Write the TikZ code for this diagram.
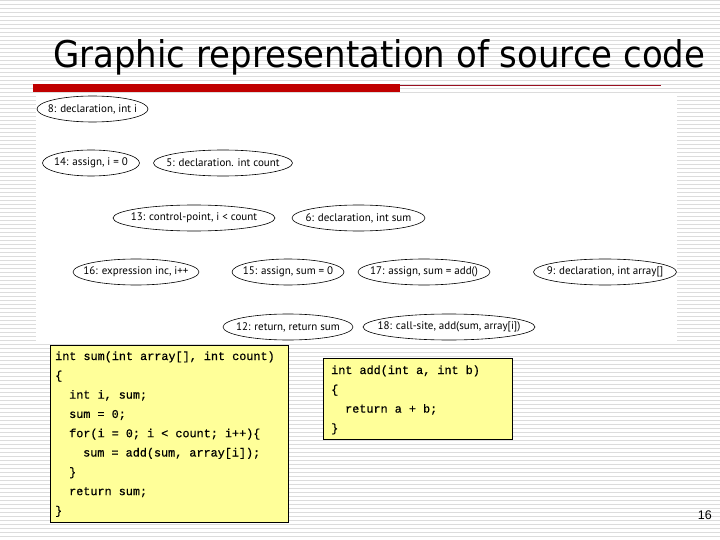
\documentclass[tikz,border=0pt]{standalone}
\usepackage{fontspec}
\setmainfont{Liberation Sans}
\newfontfamily\ellfont{PT Sans}
\newfontfamily\codefont[FakeBold=0.6]{Liberation Mono}
\newfontfamily\titlefont{DejaVu Sans}
\usetikzlibrary{shapes.geometric}
\definecolor{stripegray}{HTML}{DCDCDC}
\definecolor{barred}{HTML}{C00000}
\definecolor{thinred}{HTML}{9A1020}
\definecolor{codeyellow}{HTML}{FFFF99}
\newcommand{\ztext}[1]{\makebox[0pt]{#1}}
\begin{document}
\begin{tikzpicture}[x=1pt,y=-1pt,
  stripe/.style={draw=stripegray,line width=1.1pt},
  ell/.style={draw,ellipse,line width=0.6pt,inner sep=0pt,minimum height=26pt,
    font=\ellfont\fontsize{11}{12}\selectfont},
  codebox/.style={draw=black,line width=0.8pt,fill=codeyellow,inner sep=0pt},
  codeline/.style={anchor=base west,inner sep=0pt,font=\codefont\fontsize{11.8}{12}\selectfont}]
\useasboundingbox (0,0) rectangle (720,540);
\fill[white] (0,0) rectangle (720,540);
\foreach \k in {0,...,134} \draw[stripe] (0,{4*\k+0.7}) -- (720,{4*\k+0.7});
% title
\node[anchor=base west,inner sep=0pt] (title) at (53,68) {\resizebox{652pt}{28pt}{\titlefont Graphic representation of source code}};
% red bars
\fill[barred] (33,84) rectangle (400,92);
\draw[thinred,line width=0.9pt] (400,85) -- (661,85);
% white panel
\fill[white] (36,93) rectangle (677,343);
% ellipses
\node[ell,minimum width=111pt] (e8) at (92.5,109) {\ztext{8: declaration, int i}};
\node[ell,minimum width=97pt] (e14) at (91,163) {\ztext{14: assign, i = 0}};
\node[ell,minimum width=139pt] (e5) at (223,163) {\ztext{5: declaration. int count}};
\node[ell,minimum width=162pt] (e13) at (194,218) {\ztext{13: control-point, i < count}};
\node[ell,minimum width=133pt] (e6) at (358.5,218) {\ztext{6: declaration, int sum}};
\node[ell,minimum width=126pt] (e16) at (136,272) {\ztext{16: expression inc, i++}};
\node[ell,minimum width=112pt] (e15) at (288,272) {\ztext{15: assign, sum = 0}};
\node[ell,minimum width=132pt] (e17) at (424,272) {\ztext{17: assign, sum = add()}};
\node[ell,minimum width=143pt] (e9) at (605,272) {\ztext{9: declaration, int array[]}};
\node[ell,minimum width=130pt] (e12) at (288,327) {\ztext{12: return, return sum}};
\node[ell,minimum width=172pt] (e18) at (449,327) {\ztext{18: call-site, add(sum, array[i])}};
% code box 1
\node[codebox,minimum width=238pt,minimum height=177pt] (box1) at (169.5,434) {};
\node[codeline] (l1) at (55,360) {int sum(int array[], int count)};
\node[codeline] (l2) at (55,379.3) {\{};
\node[codeline] (l3) at (69,398.6) {int i, sum;};
\node[codeline] (l4) at (69,417.9) {sum = 0;};
\node[codeline] (l5) at (69,437.2) {for(i = 0; i < count; i++)\{};
\node[codeline] (l6) at (83,456.5) {sum = add(sum, array[i]);};
\node[codeline] (l7) at (69,475.8) {\}};
\node[codeline] (l8) at (69,495.1) {return sum;};
\node[codeline] (l9) at (55,514.4) {\}};
% code box 2
\node[codebox,minimum width=189pt,minimum height=81pt] (box2) at (417.5,398.5) {};
\node[codeline] (m1) at (331,374) {int add(int a, int b)};
\node[codeline] (m2) at (331,393.3) {\{};
\node[codeline] (m3) at (345,412.6) {return a + b;};
\node[codeline] (m4) at (331,431.9) {\}};
% page number
\node[anchor=base east,inner sep=0pt,font=\fontsize{12.5}{13}\selectfont] (pg) at (712,519) {16};
\end{tikzpicture}
\end{document}
